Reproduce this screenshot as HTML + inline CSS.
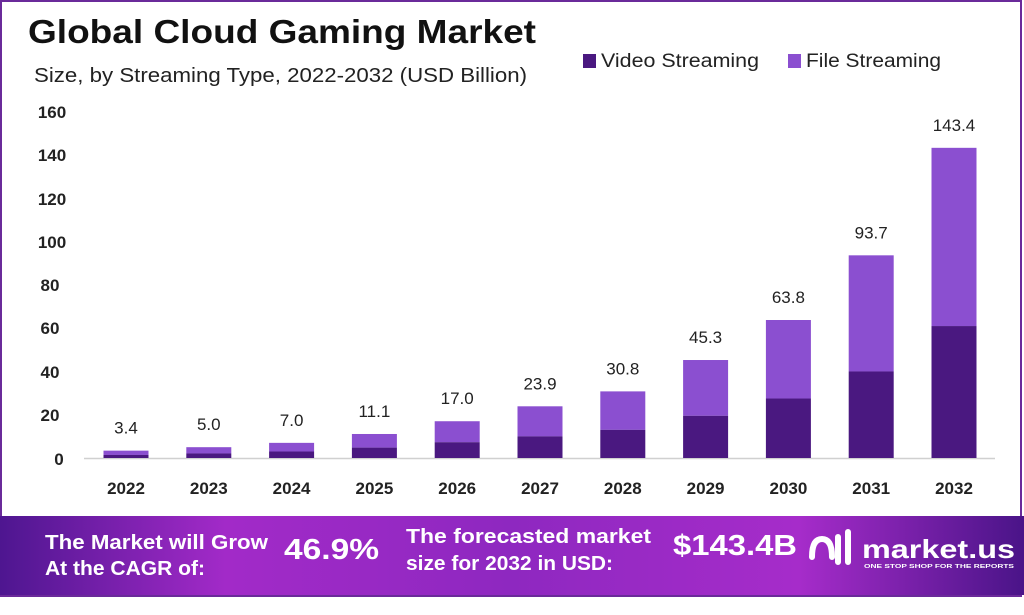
<!DOCTYPE html>
<html><head><meta charset="utf-8"><style>
body{margin:0;background:#fff;}
svg{display:block;font-family:"Liberation Sans",sans-serif;}
</style></head><body>
<svg width="1024" height="615" viewBox="0 0 1024 615">
<defs>
<linearGradient id="bn" x1="0" x2="1" y1="0" y2="0">
<stop offset="0" stop-color="#4e1690"/><stop offset="0.22" stop-color="#a22ac8"/>
<stop offset="0.5" stop-color="#8e28c0"/><stop offset="0.78" stop-color="#a62cca"/>
<stop offset="1" stop-color="#4a1488"/></linearGradient>
</defs>
<rect x="1" y="1" width="1020" height="595" fill="#fff" stroke="#6a2a9a" stroke-width="2"/>
<text x="28" y="43" font-size="33" font-weight="bold" fill="#111" textLength="508" lengthAdjust="spacingAndGlyphs">Global Cloud Gaming Market</text>
<text x="34" y="82" font-size="20" fill="#222" textLength="493" lengthAdjust="spacingAndGlyphs">Size, by Streaming Type, 2022-2032 (USD Billion)</text>
<rect x="583" y="54" width="13" height="14" fill="#4a1880"/>
<text x="601" y="67" font-size="19" fill="#222" textLength="158" lengthAdjust="spacingAndGlyphs">Video Streaming</text>
<rect x="788" y="54" width="13" height="14" fill="#8b4fd0"/>
<text x="806" y="67" font-size="19" fill="#222" textLength="135" lengthAdjust="spacingAndGlyphs">File Streaming</text>
<g font-size="17" font-weight="bold" fill="#222" text-anchor="middle">
<text x="52" y="118">160</text><text x="52" y="161">140</text><text x="52" y="205">120</text>
<text x="52" y="248">100</text><text x="50" y="291">80</text><text x="50" y="334">60</text>
<text x="50" y="378">40</text><text x="50" y="421">20</text><text x="59" y="465">0</text>
</g>
<line x1="84" y1="458.5" x2="995" y2="458.5" stroke="#d0d0d0" stroke-width="1.5"/>
<g id="bars"></g>
<g font-size="17" font-weight="bold" fill="#222" text-anchor="middle" id="xl"></g>
<g font-size="17" fill="#222" text-anchor="middle" id="vl"></g>
<rect x="0" y="516" width="1024" height="79" fill="url(#bn)"/>
<g fill="#fff" font-weight="bold">
<text x="45" y="549" font-size="20" textLength="223" lengthAdjust="spacingAndGlyphs">The Market will Grow</text>
<text x="45" y="575" font-size="20" textLength="160" lengthAdjust="spacingAndGlyphs">At the CAGR of:</text>
<text x="284" y="559" font-size="29" textLength="95" lengthAdjust="spacingAndGlyphs">46.9%</text>
<text x="406" y="543" font-size="20" textLength="245" lengthAdjust="spacingAndGlyphs">The forecasted market</text>
<text x="406" y="570" font-size="20" textLength="207" lengthAdjust="spacingAndGlyphs">size for 2032 in USD:</text>
<text x="673" y="555" font-size="29" textLength="124" lengthAdjust="spacingAndGlyphs">$143.4B</text>
<path d="M812 557 q0-18 10-18 q10 0 10 18 M838 537 v25 M848 532 v30" stroke="#fff" stroke-width="6" fill="none" stroke-linecap="round"/>
<text x="862" y="558" font-size="26" textLength="153" lengthAdjust="spacingAndGlyphs">market.us</text>
<text x="864" y="568" font-size="5.5" textLength="150" lengthAdjust="spacingAndGlyphs">ONE STOP SHOP FOR THE REPORTS</text>
</g>
</svg>
<script>
var tot=[3.4,5.0,7.0,11.1,17.0,23.9,30.8,45.3,63.8,93.7,143.4];
var dk=[1.4,2.1,3,4.8,7.3,10,13,19.5,27.5,40,61];
var s=2.163,b=458,h='',x='',v='';
for(var i=0;i<11;i++){var c=126+i*82.8,l=c-22.5;
var ty=b-tot[i]*s,dy=b-dk[i]*s;
h+='<rect x="'+l+'" y="'+ty+'" width="45" height="'+(dy-ty)+'" fill="#8b4fd0"/>';
h+='<rect x="'+l+'" y="'+dy+'" width="45" height="'+(b-dy)+'" fill="#4a1880"/>';
x+='<text x="'+c+'" y="494">'+(2022+i)+'</text>';
v+='<text x="'+c+'" y="'+(ty-17)+'">'+tot[i].toFixed(1)+'</text>';}
document.getElementById('bars').innerHTML=h;
document.getElementById('xl').innerHTML=x;
document.getElementById('vl').innerHTML=v;
</script>
</body></html>
